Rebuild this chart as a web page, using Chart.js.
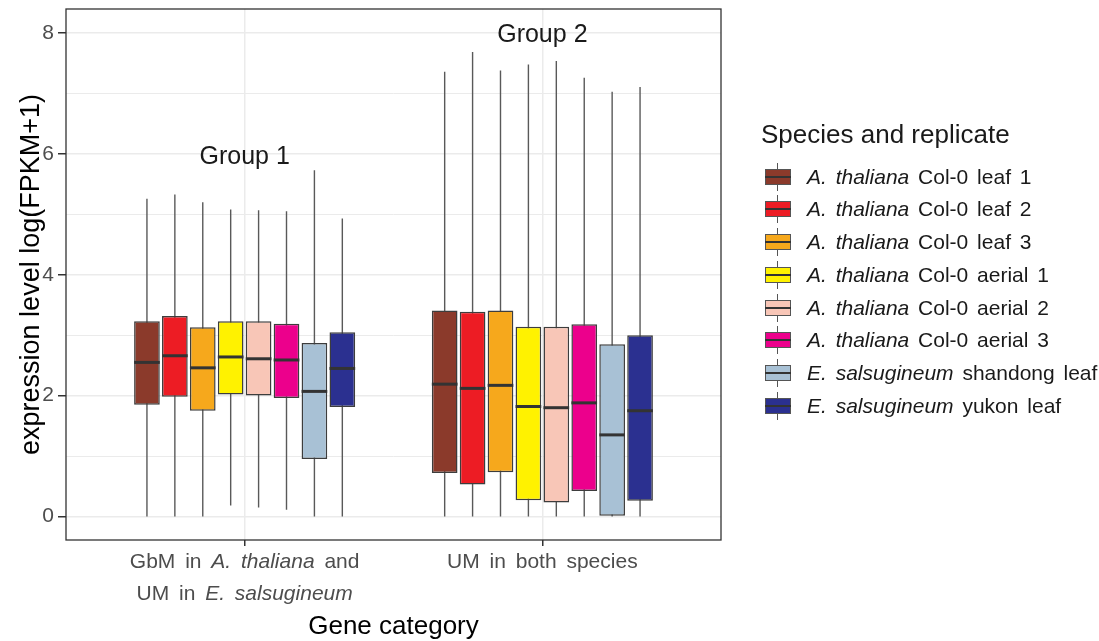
<!DOCTYPE html>
<html>
<head>
<meta charset="utf-8">
<script src="https://cdn.jsdelivr.net/npm/chart.js@4.4.1/dist/chart.umd.min.js"></script>
<style>
html,body{margin:0;padding:0;background:#fff;}
#wrap{position:relative;width:1099px;height:641px;overflow:hidden;font-family:"Liberation Sans",Arial,Helvetica,sans-serif;}
#c{position:absolute;left:0;top:0;}
.xlab{position:absolute;top:545px;color:#4d4d4d;font-size:21px;line-height:32px;text-align:center;white-space:nowrap;word-spacing:4px;transform:translateX(-50%);}
.legtitle{position:absolute;left:761px;top:119px;font-size:26px;line-height:30px;color:#1a1a1a;white-space:nowrap;}
.legitem{position:absolute;left:765px;height:32px;width:320px;}
.whisk{position:absolute;left:12px;top:2px;width:1.4px;height:28px;background:#555;}
.box{position:absolute;left:0;top:8px;width:26px;height:16px;box-sizing:border-box;border:1.3px solid #555;}
.med{position:absolute;left:0;top:15px;width:26px;height:2px;background:#333;}
.legtxt{position:absolute;left:42px;top:0;line-height:32px;font-size:21px;color:#1a1a1a;white-space:nowrap;word-spacing:3px;}
</style>
</head>
<body>
<div id="wrap"><canvas id="c" width="1099" height="641"></canvas></div>
<script>
// ---- data ----
const categoryLabelsHtml = ['GbM in <i>A. thaliana</i> and<br>UM in <i>E. salsugineum</i>', 'UM in both species'];
const xPositions = [1, 2];
const seriesItalic = ['A. thaliana','A. thaliana','A. thaliana','A. thaliana','A. thaliana','A. thaliana','E. salsugineum','E. salsugineum'];
const seriesRest = ['Col-0 leaf 1','Col-0 leaf 2','Col-0 leaf 3','Col-0 aerial 1','Col-0 aerial 2','Col-0 aerial 3','shandong leaf','yukon leaf'];
const seriesColors = ['#8B3A2B','#ED1C24','#F6A81C','#FFF200','#F8C6B7','#EC008C','#A8C1D5','#2B3090'];
// per series: [Group 1 category, Group 2 category]
const whiskerMin = [[0,0],[0,0],[0,0],[0.18,0],[0.15,0],[0.11,0],[0,0],[0,0]];
const q1 = [[1.85,0.72],[1.98,0.53],[1.75,0.73],[2.02,0.27],[2.00,0.23],[1.96,0.42],[0.95,0.00],[1.81,0.26]];
const median = [[2.55,2.19],[2.66,2.12],[2.46,2.17],[2.64,1.82],[2.61,1.80],[2.59,1.88],[2.07,1.35],[2.45,1.75]];
const q3 = [[3.23,3.41],[3.32,3.39],[3.13,3.41],[3.23,3.14],[3.23,3.14],[3.19,3.18],[2.87,2.85],[3.05,3.00]];
const whiskerMax = [[5.26,7.36],[5.33,7.69],[5.20,7.38],[5.08,7.48],[5.07,7.54],[5.05,7.26],[5.73,7.03],[4.93,7.11]];
const groupLabels = ['Group 1','Group 2'];
const groupLabelY = [5.95, 7.97];
const yGridValues = [0,1,2,3,4,5,6,7,8];
const yTickLabels = [0,2,4,6,8];

const FONT = '"Liberation Sans", Arial, Helvetica, sans-serif';
Chart.defaults.font.family = FONT;

const datasets = seriesRest.map((name, i) => ({
  label: seriesItalic[i] + ' ' + name,
  data: xPositions.map((x, j) => ({ x: x, y: [q1[i][j], q3[i][j]] })),
  backgroundColor: seriesColors[i],
  borderColor: '#3d3d3d',
  borderWidth: 1.5,
  borderSkipped: false,
  categoryPercentage: 0.75,
  barPercentage: 0.92,
  whiskerMin: whiskerMin[i], whiskerMax: whiskerMax[i], median: median[i]
}));

const boxPlugin = {
  id: 'boxparts',
  beforeDatasetsDraw(chart) {
    const ctx = chart.ctx, ys = chart.scales.y;
    ctx.save();
    ctx.strokeStyle = '#595959';
    ctx.lineWidth = 1.4;
    chart.data.datasets.forEach((ds, i) => {
      chart.getDatasetMeta(i).data.forEach((el, j) => {
        ctx.beginPath();
        ctx.moveTo(el.x, ys.getPixelForValue(ds.whiskerMin[j]));
        ctx.lineTo(el.x, ys.getPixelForValue(ds.whiskerMax[j]));
        ctx.stroke();
      });
    });
    ctx.restore();
  },
  afterDatasetsDraw(chart) {
    const ctx = chart.ctx, ys = chart.scales.y, xs = chart.scales.x;
    ctx.save();
    ctx.strokeStyle = '#333';
    ctx.lineWidth = 3;
    chart.data.datasets.forEach((ds, i) => {
      chart.getDatasetMeta(i).data.forEach((el, j) => {
        const y = ys.getPixelForValue(ds.median[j]);
        ctx.beginPath();
        ctx.moveTo(el.x - el.width / 2, y);
        ctx.lineTo(el.x + el.width / 2, y);
        ctx.stroke();
      });
    });
    ctx.fillStyle = '#1a1a1a';
    ctx.font = '25px ' + FONT;
    ctx.textAlign = 'center';
    ctx.textBaseline = 'middle';
    groupLabels.forEach((t, i) => {
      ctx.fillText(t, xs.getPixelForValue(xPositions[i]), ys.getPixelForValue(groupLabelY[i]));
    });
    ctx.restore();
  },
  afterDraw(chart) {
    const a = chart.chartArea, ctx = chart.ctx;
    ctx.save();
    ctx.strokeStyle = '#333';
    ctx.lineWidth = 1.3;
    ctx.strokeRect(a.left, a.top, a.right - a.left, a.bottom - a.top);
    ctx.restore();
  }
};

const chart = new Chart(document.getElementById('c'), {
  type: 'bar',
  data: { datasets },
  options: {
    responsive: false,
    animation: false,
    layout: { padding: { left: 0, right: 378, top: 9, bottom: 0 } },
    plugins: { legend: { display: false }, tooltip: { enabled: false } },
    scales: {
      x: {
        type: 'linear', min: 0.4, max: 2.6, offset: false,
        afterBuildTicks: s => { s.ticks = xPositions.map(v => ({ value: v })); },
        afterFit: s => { s.height = 101; s.paddingLeft = 0; s.paddingRight = 0; },
        grid: { offset: false, color: '#ebebeb', lineWidth: 1.5, drawTicks: true, tickLength: 6, tickColor: '#333', tickWidth: 1.5 },
        border: { display: false },
        ticks: { display: false },
        title: { display: true, text: 'Gene category', color: '#000', font: { size: 26, lineHeight: 1.1 }, padding: 0 }
      },
      y: {
        min: -0.39, max: 8.4,
        afterBuildTicks: s => { s.ticks = yGridValues.map(v => ({ value: v })); },
        afterFit: s => { s.width = 66; s.paddingTop = 0; s.paddingBottom = 0; },
        ticks: {
          autoSkip: false, padding: 4, color: '#4d4d4d', font: { size: 21 },
          callback: v => yTickLabels.includes(v) ? String(v) : ''
        },
        grid: {
          color: '#ebebeb',
          lineWidth: c => (c.tick && yTickLabels.includes(c.tick.value)) ? 1.5 : 1,
          tickLength: 8, tickWidth: 1.5,
          tickColor: c => (c.tick && yTickLabels.includes(c.tick.value)) ? '#333' : 'rgba(0,0,0,0)'
        },
        border: { display: false },
        title: { display: true, text: 'expression level log(FPKM+1)', color: '#000', font: { size: 27, lineHeight: 1.2 }, padding: { top: 15, bottom: 0 } }
      }
    }
  },
  plugins: [boxPlugin]
});

// HTML overlays for labels with italic parts
const wrap = document.getElementById('wrap');
categoryLabelsHtml.forEach((h, i) => {
  const d = document.createElement('div');
  d.className = 'xlab';
  d.innerHTML = h;
  d.style.left = chart.scales.x.getPixelForValue(xPositions[i]) + 'px';
  wrap.appendChild(d);
});
const lt = document.createElement('div');
lt.className = 'legtitle';
lt.textContent = 'Species and replicate';
wrap.appendChild(lt);
seriesRest.forEach((name, i) => {
  const it = document.createElement('div');
  it.className = 'legitem';
  it.style.top = (176.7 + 32.7 * i - 16) + 'px';
  it.innerHTML = '<div class="whisk"></div><div class="box" style="background:' + seriesColors[i] + '"></div><div class="med"></div>' +
    '<div class="legtxt"><i>' + seriesItalic[i] + '</i> ' + name.replace(/ (\S+)$/, '&nbsp;$1') + '</div>';
  wrap.appendChild(it);
});
</script>
</body>
</html>
